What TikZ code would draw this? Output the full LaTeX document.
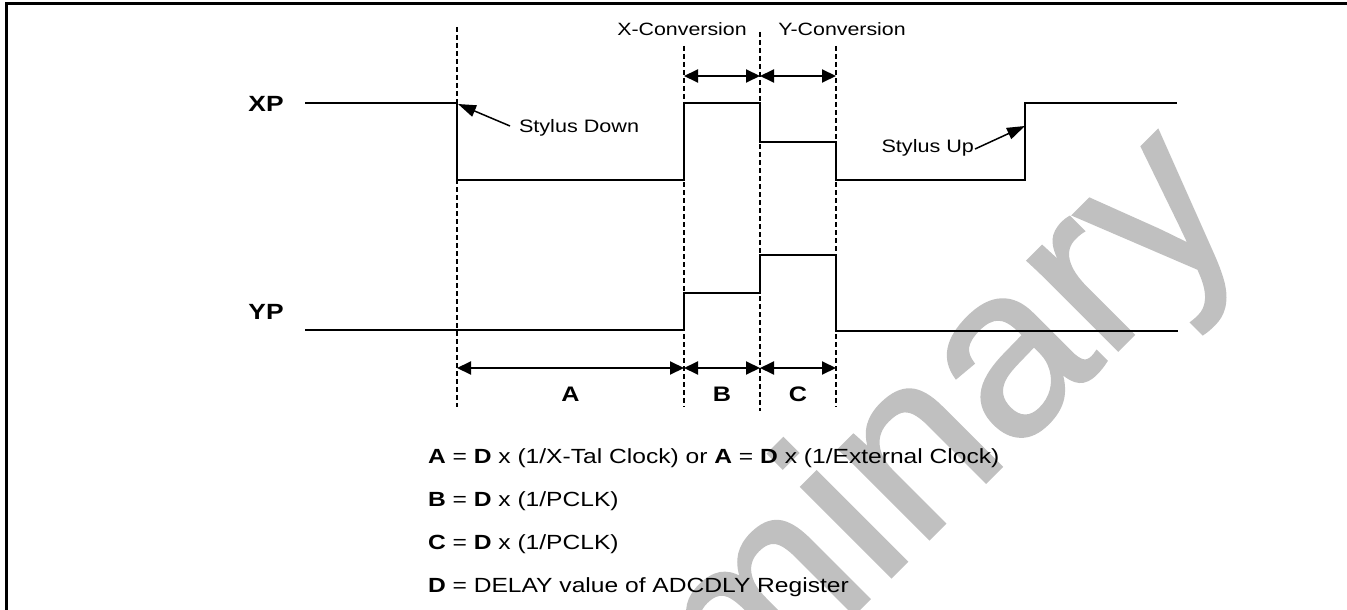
\documentclass[tikz,border=0pt]{standalone}
\usepackage{fontspec}
\setmainfont{Liberation Sans}[FakeStretch=1.2]
\newfontfamily\markfont{Liberation Sans}[FakeBold=1.2]
\usetikzlibrary{arrows.meta}
\definecolor{pdfcolor1}{RGB}{192,192,192}
\definecolor{pdfcolor2}{RGB}{0,0,0}

\begin{document}
\begin{tikzpicture}[x=1bp,y=-1bp,inner sep=0pt,outer sep=0pt,
  sig/.style={draw=pdfcolor2,line width=2bp,line join=miter},
  guide/.style={draw=pdfcolor2,line width=1.5bp,dash pattern=on 5bp off 3bp},
  span/.style={draw=pdfcolor2,line width=2bp,{Triangle[length=14bp,width=13bp]}-{Triangle[length=14bp,width=13bp]}},
  callout/.style={draw=pdfcolor2,line width=1.5bp,-{Triangle[length=18bp,width=12bp]}}]
  \useasboundingbox (0,0) rectangle (1347,610);
  % watermark
  \node[anchor=base east,rotate=45,text=pdfcolor1] (mark) at (1248,220) {{\markfont\fontsize{240bp}{250bp}\selectfont Preliminary}};
  % frame
  \draw[line width=3bp] (6.5,610) -- (6.5,4) -- (1347,4);
  % guides
  \foreach \x/\top/\bot in {457/27/407,684/46/407,760/32/411,836/46/407}
    \draw[guide] (\x,\top) -- (\x,\bot);
  % waveforms
  \draw[sig] (305,103) -- (457,103) -- (457,180) -- (684,180) -- (684,103) -- (760,103) -- (760,142)
    -- (836,142) -- (836,180) -- (1025,180) -- (1025,103) -- (1177,103);
  \draw[sig] (305,330) -- (684,330) -- (684,293) -- (760,293) -- (760,255) -- (836,255) -- (836,331) -- (1178,331);
  \node[anchor=center] (xp) at (266,104) {{\fontsize{22bp}{26bp}\selectfont \textbf{XP}}};
  \node[anchor=center] (yp) at (266,312) {{\fontsize{22bp}{26bp}\selectfont \textbf{YP}}};
  % conversion spans
  \node[anchor=center] (xconv) at (682,29) {{\fontsize{17.8bp}{21bp}\selectfont X-Conversion}};
  \node[anchor=center] (yconv) at (842,29) {{\fontsize{17.8bp}{21bp}\selectfont Y-Conversion}};
  \coordinate (c1) at (684,76);
  \coordinate (c2) at (760,76);
  \coordinate (c3) at (836,76);
  \draw[span] (c1) -- (c2);
  \draw[span] (c2) -- (c3);
  % stylus
  \node[anchor=west] (sdown) at (519,128) {{\fontsize{18bp}{21bp}\selectfont Stylus Down}};
  \node[anchor=east] (sup) at (974,148) {{\fontsize{18bp}{21bp}\selectfont Stylus Up}};
  \coordinate (downedge) at (458,104);
  \coordinate (upedge) at (1025,126);
  \draw[callout] ([xshift=-9bp,yshift=2bp]sdown.west) -- (downedge);
  \draw[callout] ([xshift=1bp,yshift=-1bp]sup.east) -- (upedge);
  % delay spans
  \coordinate (a0) at (457,368);
  \coordinate (a1) at (684,368);
  \coordinate (a2) at (760,368);
  \coordinate (a3) at (836,368);
  \draw[span] (a0) -- (a1);
  \draw[span] (a1) -- (a2);
  \draw[span] (a2) -- (a3);
  \node[anchor=center] (la) at (570.5,394) {{\fontsize{21bp}{25bp}\selectfont \textbf{A}}};
  \node[anchor=center] (lb) at (722,394) {{\fontsize{21bp}{25bp}\selectfont \textbf{B}}};
  \node[anchor=center] (lc) at (798,394) {{\fontsize{21bp}{25bp}\selectfont \textbf{C}}};
  % formulas
  \node[anchor=west] (fa) at (428,458) {{\fontsize{20.5bp}{24bp}\selectfont \textbf{A} = \textbf{D} x (1/X-Tal Clock) or \textbf{A} = \textbf{D} x (1/External Clock)}};
  \node[anchor=west] (fb) at (428,501) {{\fontsize{20.5bp}{24bp}\selectfont \textbf{B} = \textbf{D} x (1/PCLK)}};
  \node[anchor=west] (fc) at (428,544) {{\fontsize{20.5bp}{24bp}\selectfont \textbf{C} = \textbf{D} x (1/PCLK)}};
  \node[anchor=west] (fd) at (428,587) {{\fontsize{20.5bp}{24bp}\selectfont \textbf{D} = DELAY value of ADCDLY Register}};
\end{tikzpicture}
\end{document}
